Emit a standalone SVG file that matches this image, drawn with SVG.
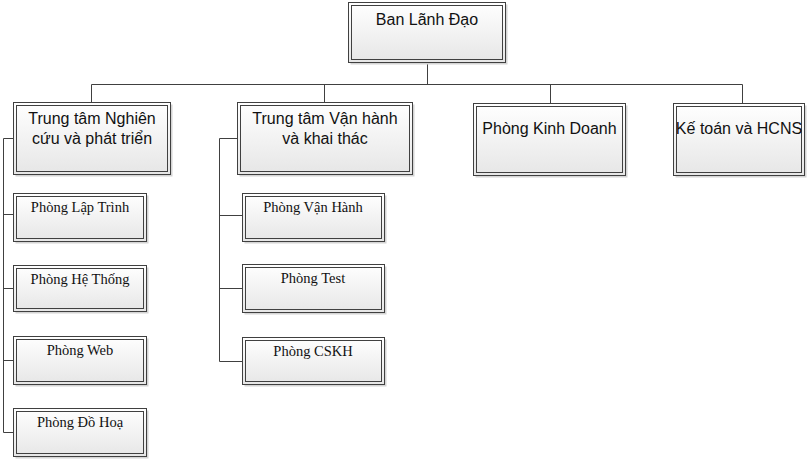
<svg xmlns="http://www.w3.org/2000/svg" width="812" height="459" viewBox="0 0 812 459">
<defs>
<linearGradient id="g" x1="0" y1="0" x2="0" y2="1">
<stop offset="0" stop-color="#ffffff"/>
<stop offset="1" stop-color="#e6e6e6"/>
</linearGradient>
<style>
.sh{fill:#d4d4d4;}
.o{fill:url(#g);stroke:#404040;stroke-width:1;}
.i{fill:none;stroke:#404040;stroke-width:1;}
.t{font-family:"Liberation Sans",Arial,sans-serif;font-size:16px;fill:#111;text-anchor:middle;}
.s{font-family:"Liberation Serif","Times New Roman",serif;font-size:14.5px;fill:#111;text-anchor:middle;}
.c{fill:none;stroke:#404040;stroke-width:1;}
</style>
</defs>
<rect width="812" height="459" fill="#ffffff"/>
<g id="connectors">
<path class="c" d="M427.5 62 V84.5 M91.5 84.5 H742.5 M91.5 84.5 V102 M324.5 84.5 V102 M550.5 84.5 V103 M742.5 84.5 V103"/>
<path class="c" d="M13 138.5 H3.5 V432.5 H13 M3.5 214.5 H13 M3.5 288.5 H13 M3.5 360.5 H13"/>
<path class="c" d="M237 138.5 H219.5 V361.5 H242 M219.5 215.5 H242 M219.5 288.5 H242"/>
</g>
<g id="ban-lanh-dao">
<rect class="sh" x="350.5" y="4.5" width="157" height="60"/>
<rect class="o" x="348.5" y="2.5" width="157" height="60"/>
<rect class="i" x="351.5" y="5.5" width="151" height="54"/>
<text class="t" x="427" y="25">Ban Lãnh Đạo</text>
</g>
<g id="tt-nghien-cuu">
<rect class="sh" x="15.5" y="104.5" width="157" height="72"/>
<rect class="o" x="13.5" y="102.5" width="157" height="72"/>
<rect class="i" x="16.5" y="105.5" width="151" height="66"/>
<text class="t" x="92" y="124">Trung tâm Nghiên</text>
<text class="t" x="92" y="144">cứu và phát triển</text>
</g>
<g id="tt-van-hanh">
<rect class="sh" x="239.5" y="104.5" width="175" height="72"/>
<rect class="o" x="237.5" y="102.5" width="175" height="72"/>
<rect class="i" x="240.5" y="105.5" width="169" height="66"/>
<text class="t" x="325" y="124">Trung tâm Vận hành</text>
<text class="t" x="325" y="144">và khai thác</text>
</g>
<g id="phong-kinh-doanh">
<rect class="sh" x="475.5" y="105.5" width="152" height="72"/>
<rect class="o" x="473.5" y="103.5" width="152" height="72"/>
<rect class="i" x="476.5" y="106.5" width="146" height="66"/>
<text class="t" x="549.5" y="134">Phòng Kinh Doanh</text>
</g>
<g id="ke-toan-hcns">
<rect class="sh" x="675.5" y="105.5" width="131" height="72"/>
<rect class="o" x="673.5" y="103.5" width="131" height="72"/>
<rect class="i" x="676.5" y="106.5" width="125" height="66"/>
<text class="t" x="739" y="134">Kế toán và HCNS</text>
</g>
<g id="phong-lap-trinh">
<rect class="sh" x="15.5" y="195.5" width="133" height="48"/>
<rect class="o" x="13.5" y="193.5" width="133" height="48"/>
<rect class="i" x="16.5" y="196.5" width="127" height="42"/>
<text class="s" x="80" y="212">Phòng Lập Trình</text>
</g>
<g id="phong-he-thong">
<rect class="sh" x="15.5" y="267.5" width="133" height="46"/>
<rect class="o" x="13.5" y="265.5" width="133" height="46"/>
<rect class="i" x="16.5" y="268.5" width="127" height="40"/>
<text class="s" x="80" y="284">Phòng Hệ Thống</text>
</g>
<g id="phong-web">
<rect class="sh" x="15.5" y="338.5" width="133" height="48"/>
<rect class="o" x="13.5" y="336.5" width="133" height="48"/>
<rect class="i" x="16.5" y="339.5" width="127" height="42"/>
<text class="s" x="80" y="355">Phòng Web</text>
</g>
<g id="phong-do-hoa">
<rect class="sh" x="15.5" y="410.5" width="133" height="48"/>
<rect class="o" x="13.5" y="408.5" width="133" height="48"/>
<rect class="i" x="16.5" y="411.5" width="127" height="42"/>
<text class="s" x="80" y="427">Phòng Đồ Hoạ</text>
</g>
<g id="phong-van-hanh">
<rect class="sh" x="244.5" y="195.5" width="142" height="48"/>
<rect class="o" x="242.5" y="193.5" width="142" height="48"/>
<rect class="i" x="245.5" y="196.5" width="136" height="42"/>
<text class="s" x="313" y="212">Phòng Vận Hành</text>
</g>
<g id="phong-test">
<rect class="sh" x="244.5" y="266.5" width="142" height="48"/>
<rect class="o" x="242.5" y="264.5" width="142" height="48"/>
<rect class="i" x="245.5" y="267.5" width="136" height="42"/>
<text class="s" x="313" y="283">Phòng Test</text>
</g>
<g id="phong-cskh">
<rect class="sh" x="244.5" y="339.5" width="142" height="47"/>
<rect class="o" x="242.5" y="337.5" width="142" height="47"/>
<rect class="i" x="245.5" y="340.5" width="136" height="41"/>
<text class="s" x="313" y="356">Phòng CSKH</text>
</g>
</svg>
